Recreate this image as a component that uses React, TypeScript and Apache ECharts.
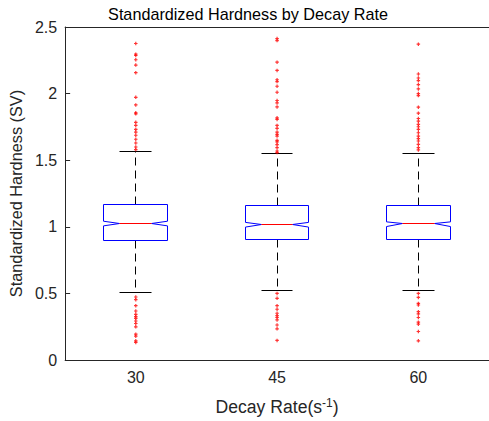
import React, { useEffect, useRef } from "react";
import * as echarts from "echarts";

const categories = ["30", "45", "60"];
const whiskerLow = [0.507, 0.52, 0.525];
const q1 = [0.898, 0.903, 0.901];
const notchLow = [1.007, 0.998, 1.002];
const median = [1.025, 1.015, 1.022];
const notchHigh = [1.042, 1.033, 1.037];
const q3 = [1.164, 1.162, 1.162];
const whiskerHigh = [1.562, 1.547, 1.552];

const outliers30 = [2.376, 2.296, 2.286, 2.254, 2.214, 2.157, 1.972, 1.915, 1.856, 1.848, 1.784, 1.761, 1.731, 1.711, 1.687, 1.657, 1.629, 1.599, 1.58, 0.473, 0.453, 0.408, 0.368, 0.343, 0.326, 0.313, 0.293, 0.274, 0.249, 0.194, 0.179, 0.144, 0.132];
const outliers45 = [2.413, 2.398, 2.236, 2.174, 2.104, 2.09, 2.055, 2.01, 1.948, 1.93, 1.9, 1.818, 1.806, 1.761, 1.739, 1.711, 1.694, 1.681, 1.649, 1.637, 1.617, 1.595, 1.569, 1.557, 0.5, 0.463, 0.408, 0.381, 0.351, 0.333, 0.319, 0.301, 0.263, 0.234, 0.147];
const outliers60 = [2.371, 2.147, 2.117, 2.097, 2.067, 2.035, 2.0, 1.985, 1.898, 1.853, 1.813, 1.793, 1.769, 1.751, 1.731, 1.706, 1.681, 1.662, 1.644, 1.619, 1.595, 1.577, 0.5, 0.47, 0.425, 0.413, 0.363, 0.346, 0.319, 0.284, 0.269, 0.214, 0.144];

const FONT = "Liberation Sans, Arial, Helvetica, sans-serif";
const AX = "#262626";

export default function App() {
  const ref = useRef<HTMLDivElement>(null);
  useEffect(() => {
    if (!ref.current) return;
    const chart = echarts.init(ref.current, undefined, { renderer: "svg" });
    const boxData = categories.map((_, i) => [i, whiskerLow[i], q1[i], notchLow[i], median[i], notchHigh[i], q3[i], whiskerHigh[i]]);
    const medianData = categories.map((_, i) => [i, median[i]]);
    const outlierData: number[][] = [];
    [outliers30, outliers45, outliers60].forEach((arr, i) => arr.forEach((v) => outlierData.push([i, v])));
    const c = (v: number) => Math.round(v - 0.5) + 0.5;
    const HALF = 0.225;

    chart.setOption({
      animation: false,
      title: {
        text: "Standardized Hardness by Decay Rate",
        left: 243,
        textAlign: "center",
        top: 1,
        textStyle: { fontFamily: FONT, fontSize: 16.2, fontWeight: "normal", color: "#000" },
      },
      grid: { left: 64, top: 27, width: 433, height: 335 },
      xAxis: [
        {
          type: "category",
          data: categories,
          position: "bottom",
          axisLine: { lineStyle: { color: AX, width: 1 } },
          axisTick: { inside: true, alignWithLabel: true, length: 5, lineStyle: { color: AX } },
          axisLabel: { color: AX, fontFamily: FONT, fontSize: 16, margin: 9 },
          name: "Decay Rate(s{sup|-1})",
          nameLocation: "middle",
          nameGap: 37,
          nameTextStyle: {
            fontFamily: FONT,
            fontSize: 17.6,
            color: AX,
            rich: {
              sup: { fontFamily: FONT, fontSize: 12, color: AX, verticalAlign: "top", lineHeight: 20 },
            },
          },
          splitLine: { show: false },
        },
        {
          type: "category",
          data: categories,
          position: "top",
          axisLine: { lineStyle: { color: AX, width: 1 } },
          axisTick: { inside: true, alignWithLabel: true, length: 5, lineStyle: { color: AX } },
          axisLabel: { show: false },
          splitLine: { show: false },
        },
      ],
      yAxis: {
        type: "value",
        min: 0,
        max: 2.5,
        interval: 0.5,
        axisLine: { show: true, lineStyle: { color: AX, width: 1 } },
        axisTick: { show: true, inside: true, length: 5, lineStyle: { color: AX } },
        axisLabel: { color: AX, fontFamily: FONT, fontSize: 16, margin: 8 },
        splitLine: { show: false },
        name: "Standardized Hardness (SV)",
        nameLocation: "middle",
        nameGap: 26,
        nameTextStyle: { fontFamily: FONT, fontSize: 16.3, color: AX },
      },
      series: [
        {
          type: "custom",
          xAxisIndex: 0,
          data: boxData,
          itemStyle: { color: "#0000ff" },
          encode: { x: 0, y: [1, 2, 3, 4, 5, 6, 7] },
          renderItem: (params: any, api: any) => {
            const i = api.value(0);
            const wl = api.value(1), lq = api.value(2), nl = api.value(3), md = api.value(4), nh = api.value(5), uq = api.value(6), wh = api.value(7);
            const band = api.size([1, 0])[0];
            const half = band * HALF;
            const inner = half / 2;
            const cx = api.coord([i, md])[0];
            const y = (v: number) => api.coord([i, v])[1];
            const L = c(cx - half), R = c(cx + half), Li = c(cx - inner), Ri = c(cx + inner), X = c(cx);
            const my = c(y(md));
            const poly = [
              [L, c(y(lq))], [L, y(nl)], [Li, my], [L, y(nh)], [L, c(y(uq))],
              [R, c(y(uq))], [R, y(nh)], [Ri, my], [R, y(nl)], [R, c(y(lq))],
            ];
            return {
              type: "group",
              children: [
                { type: "line", shape: { x1: X, y1: c(y(uq)), x2: X, y2: c(y(wh)) }, style: { stroke: "#000", lineWidth: 1, lineDash: [8, 5], fill: null } },
                { type: "line", shape: { x1: X, y1: c(y(lq)), x2: X, y2: c(y(wl)) }, style: { stroke: "#000", lineWidth: 1, lineDash: [8, 5], fill: null } },
                { type: "line", shape: { x1: Li, y1: c(y(wh)), x2: Ri, y2: c(y(wh)) }, style: { stroke: "#000", lineWidth: 1, fill: null } },
                { type: "line", shape: { x1: Li, y1: c(y(wl)), x2: Ri, y2: c(y(wl)) }, style: { stroke: "#000", lineWidth: 1, fill: null } },
                { type: "polyline", shape: { points: poly.slice(0, 5) }, style: { stroke: "#0000ff", lineWidth: 1, fill: null } },
                { type: "polyline", shape: { points: poly.slice(4, 10) }, style: { stroke: "#0000ff", lineWidth: 1, fill: null } },
                { type: "line", shape: { x1: L, y1: c(y(lq)), x2: R, y2: c(y(lq)) }, style: { stroke: "#0000ff", lineWidth: 1, fill: null } },
              ],
            };
          },
          z: 2,
        },
        {
          type: "custom",
          xAxisIndex: 0,
          data: medianData,
          itemStyle: { color: "#ff0000" },
          encode: { x: 0, y: 1 },
          renderItem: (params: any, api: any) => {
            const i = api.value(0);
            const md = api.value(1);
            const band = api.size([1, 0])[0];
            const inner = (band * HALF) / 2;
            const p = api.coord([i, md]);
            const my = c(p[1]);
            return {
              type: "line",
              shape: { x1: c(p[0] - inner), y1: my, x2: c(p[0] + inner), y2: my },
              style: { stroke: "#ff0000", lineWidth: 1, fill: null },
            };
          },
          z: 4,
        },
        {
          type: "scatter",
          xAxisIndex: 0,
          data: outlierData,
          symbol: "path://M1,0h1v1h1v1h-1v1h-1v-1h-1v-1h1z",
          symbolSize: 3.5,
          itemStyle: { color: "#ff0000" },
          z: 3,
        },
      ],
    });
    return () => chart.dispose();
  }, []);
  return <div ref={ref} style={{ position: "fixed", left: 0, top: 0, width: 489, height: 421, background: "#fff" }} />;
}
